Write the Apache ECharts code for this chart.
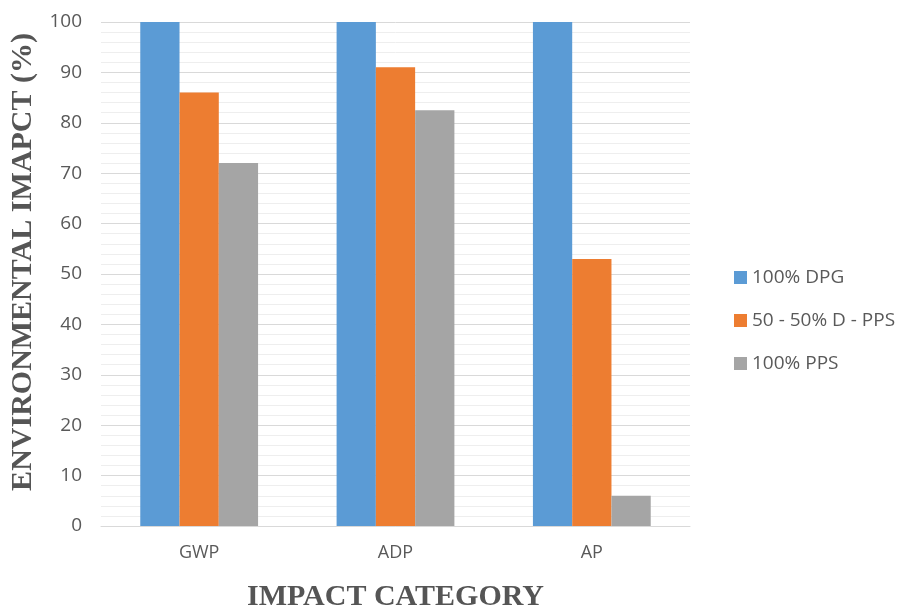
<!DOCTYPE html>
<html><head><meta charset="utf-8">
<script src="https://cdn.jsdelivr.net/npm/echarts@6/dist/echarts.min.js"></script>
<style>html,body{margin:0;padding:0;background:#fff}#c{width:900px;height:608px}</style>
</head><body><div id="c"></div>
<script>
const categories = ['GWP', 'ADP', 'AP'];
const seriesNames = ['100% DPG', '50 - 50% D - PPS', '100% PPS'];
const dpg = [100, 100, 100];
const mixed = [86, 91, 53];
const pps = [72, 82.5, 6];
const yTicks = [0, 10, 20, 30, 40, 50, 60, 70, 80, 90, 100];
const colors = ['#5B9BD5', '#ED7D31', '#A5A5A5'];

const chart = echarts.init(document.getElementById('c'));
const dataSets = [dpg, mixed, pps];
chart.setOption({
  animation: false,
  color: colors,
  grid: { left: 101, right: 210, top: 22, bottom: 82, containLabel: false, outerBoundsMode: 'none' },
  legend: {
    orient: 'vertical', left: 729, top: 263, itemGap: 24,
    itemWidth: 13, itemHeight: 13, icon: 'rect',
    textStyle: { color: '#595959', fontSize: 19, fontFamily: 'Open Sans' },
    data: seriesNames
  },
  xAxis: {
    type: 'category', data: categories,
    name: 'IMPACT CATEGORY', nameLocation: 'middle', nameGap: 56,
    nameTextStyle: { fontFamily: 'Liberation Serif', fontWeight: 'bold', fontSize: 30, color: '#555555' },
    axisLine: { lineStyle: { color: '#d9d9d9' } },
    axisTick: { show: false },
    axisLabel: { color: '#595959', fontSize: 18, fontFamily: 'Open Sans', margin: 18 }
  },
  yAxis: {
    type: 'value', min: yTicks[0], max: yTicks[yTicks.length - 1], interval: 10,
    name: 'ENVIRONMENTAL IMAPCT (%)', nameLocation: 'middle', nameGap: 63,
    nameTextStyle: { fontFamily: 'Liberation Serif', fontWeight: 'bold', fontSize: 30, color: '#555555', padding: [0, 0, 0, 24] },
    axisLine: { show: false }, axisTick: { show: false },
    axisLabel: { color: '#595959', fontSize: 19, fontFamily: 'Open Sans', margin: 19 },
    splitLine: { lineStyle: { color: '#d9d9d9' } },
    minorTick: { show: false, splitNumber: 5 },
    minorSplitLine: { show: true, lineStyle: { color: '#eeeeee' } }
  },
  series: seriesNames.map((n, i) => ({
    name: n, type: 'bar', data: dataSets[i],
    barGap: '0%', barCategoryGap: '40%'
  }))
});
</script></body></html>
